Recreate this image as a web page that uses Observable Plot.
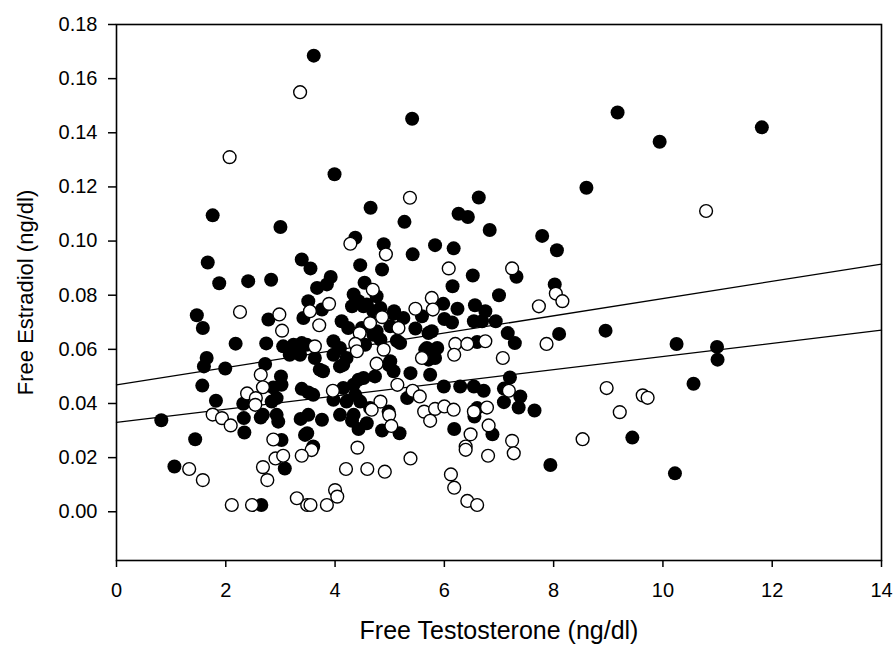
<!DOCTYPE html>
<html>
<head>
<meta charset="utf-8">
<script src="https://cdn.jsdelivr.net/npm/d3@7"></script>
<script src="https://cdn.jsdelivr.net/npm/@observablehq/plot@0.6"></script>
<style>
  html, body { margin: 0; padding: 0; background: #fff; }
  #chart svg { display: block; }
</style>
</head>
<body>
<div id="chart"></div>
<script>
// Closed circles
const filledX = [3.61,3.99,5.41,6.63,4.65,6.26,6.43,5.27,4.37,4.89,5.42,5.83,6.17,6.52,6.15,3.39,3.55,4.46,4.86,3.92,3.67,3.85,4.54,4.76,4.34,4.43,4.31,4.58,3.51,3.76,5.98,6.24,6.56,5.08,5.25,5.59,6.00,4.70,4.12,4.24,3.42,5.01,5.47,5.77,4.76,3.97,5.13,6.60,5.68,5.87,4.52,4.83,5.07,6.14,6.54,4.49,5.71,4.70,4.55,4.83,5.19,5.65,5.71,5.01,5.07,4.73,4.52,5.32,4.64,4.98,6.60,1.76,3.00,1.67,1.88,2.41,2.83,1.47,1.58,2.78,2.18,2.74,3.05,3.24,3.39,3.48,1.65,1.60,1.99,2.72,3.01,1.57,1.82,2.87,2.93,3.39,2.32,0.82,2.33,2.34,2.64,2.93,2.96,3.37,1.44,3.02,3.45,3.08,1.06,2.65,3.17,3.36,3.63,3.97,4.21,4.15,4.09,3.78,3.72,4.09,5.38,5.74,4.43,5.99,6.29,6.54,3.60,4.15,4.37,3.97,4.21,4.46,3.76,4.31,4.58,4.43,4.86,5.18,3.49,3.60,6.18,5.83,4.98,3.02,3.51,4.34,2.84,2.68,3.51,4.09,4.34,6.83,7.79,8.06,7.32,8.02,7.00,6.75,6.69,6.94,7.16,7.29,8.10,8.95,7.20,7.09,6.72,7.39,7.09,7.36,7.65,6.55,6.88,7.94,9.44,8.60,9.17,9.94,11.81,10.25,10.99,11.00,10.56,10.22];
const filledY = [0.1685,0.1247,0.1452,0.1161,0.1123,0.1101,0.1089,0.1071,0.1012,0.0988,0.0951,0.0985,0.0973,0.0873,0.0833,0.0932,0.0899,0.0911,0.0895,0.0867,0.0827,0.0840,0.0846,0.0796,0.0803,0.0778,0.0759,0.0766,0.0778,0.0747,0.0768,0.0750,0.0763,0.0741,0.0716,0.0722,0.0712,0.0741,0.0704,0.0679,0.0716,0.0685,0.0677,0.0667,0.0667,0.0630,0.0632,0.0627,0.0605,0.0605,0.0759,0.0753,0.0731,0.0699,0.0704,0.0679,0.0660,0.0654,0.0617,0.0636,0.0623,0.0599,0.0562,0.0556,0.0519,0.0500,0.0494,0.0420,0.0383,0.0370,0.0383,0.1095,0.1052,0.0921,0.0844,0.0852,0.0857,0.0726,0.0679,0.0710,0.0621,0.0622,0.0611,0.0617,0.0623,0.0617,0.0568,0.0537,0.0529,0.0546,0.0500,0.0466,0.0410,0.0459,0.0420,0.0454,0.0399,0.0338,0.0346,0.0293,0.0348,0.0358,0.0333,0.0343,0.0268,0.0265,0.0284,0.0160,0.0167,0.0025,0.0580,0.0580,0.0568,0.0580,0.0568,0.0543,0.0605,0.0519,0.0525,0.0537,0.0512,0.0506,0.0488,0.0463,0.0463,0.0463,0.0432,0.0457,0.0432,0.0414,0.0407,0.0407,0.0340,0.0336,0.0327,0.0306,0.0300,0.0290,0.0290,0.0241,0.0306,0.0568,0.0543,0.0469,0.0441,0.0469,0.0407,0.0358,0.0358,0.0358,0.0358,0.1041,0.1019,0.0966,0.0868,0.0840,0.0800,0.0741,0.0704,0.0704,0.0660,0.0623,0.0657,0.0669,0.0496,0.0455,0.0447,0.0426,0.0405,0.0385,0.0374,0.0352,0.0286,0.0173,0.0274,0.1197,0.1475,0.1367,0.1420,0.0620,0.0609,0.0562,0.0473,0.0142];

// Open circles
const openX = [3.36,2.07,5.37,4.28,4.93,6.08,4.69,3.89,3.54,5.77,5.47,5.79,4.86,4.64,3.71,5.16,4.45,4.37,4.89,3.63,6.20,6.42,6.18,5.59,4.76,5.14,5.42,5.55,3.96,4.83,4.67,4.99,5.03,3.57,3.39,5.63,5.83,6.00,6.17,5.74,6.48,6.39,6.39,6.54,4.41,5.38,4.20,4.59,4.91,6.12,6.18,4.00,4.04,3.49,3.55,3.85,6.42,6.60,3.30,2.26,2.98,3.03,2.64,2.68,2.39,2.55,2.54,1.76,1.93,2.09,2.87,2.91,3.05,1.33,1.58,2.68,2.76,2.11,2.48,4.40,7.24,8.04,8.16,7.73,6.75,7.87,7.07,7.18,6.78,6.81,7.24,7.27,6.80,8.53,8.97,9.21,9.63,9.72,10.79];
const openY = [0.155,0.131,0.1160,0.0990,0.0951,0.0899,0.0820,0.0768,0.0741,0.0790,0.0750,0.0747,0.0719,0.0697,0.0689,0.0679,0.0660,0.0620,0.0599,0.0611,0.0620,0.0620,0.0580,0.0568,0.0547,0.0469,0.0447,0.0426,0.0447,0.0407,0.0377,0.0358,0.0317,0.0228,0.0207,0.0370,0.0380,0.0389,0.0377,0.0336,0.0286,0.0241,0.0229,0.0370,0.0237,0.0197,0.0158,0.0158,0.0148,0.0138,0.0089,0.0080,0.0056,0.0025,0.0025,0.0025,0.0040,0.0025,0.0050,0.0738,0.0729,0.0669,0.0506,0.0460,0.0437,0.0420,0.0395,0.0359,0.0346,0.0319,0.0267,0.0197,0.0207,0.0158,0.0117,0.0165,0.0117,0.0025,0.0025,0.0593,0.0899,0.0806,0.0778,0.0759,0.0630,0.0620,0.0568,0.0447,0.0385,0.0319,0.0262,0.0216,0.0207,0.0268,0.0457,0.0368,0.0430,0.0421,0.1111];

// Fitted regression lines (endpoints read at x = 0 and x = 14)
const lineX = [0, 14];
const upperLineY = [0.0469, 0.0915];
const lowerLineY = [0.0330, 0.0671];

const xTicks = [0, 2, 4, 6, 8, 10, 12, 14];
const yTicks = [0, 0.02, 0.04, 0.06, 0.08, 0.10, 0.12, 0.14, 0.16, 0.18];
const xTitle = "Free Testosterone (ng/dl)";
const yTitle = "Free Estradiol (ng/dl)";

const filled = filledX.map((x, i) => ({x, y: filledY[i]}));
const open = openX.map((x, i) => ({x, y: openY[i]}));
const lines = [
  ...lineX.map((x, i) => ({x, y: upperLineY[i], s: "upper"})),
  ...lineX.map((x, i) => ({x, y: lowerLineY[i], s: "lower"}))
];

const font = "'Liberation Sans', Arial, sans-serif";

const chart = Plot.plot({
  width: 893,
  height: 648,
  marginLeft: 116,
  marginRight: 12,
  marginTop: 24,
  marginBottom: 88,
  style: {fontFamily: font, color: "black", background: "white"},
  x: {domain: [0, 14]},
  y: {domain: [-0.018, 0.18]},
  marks: [
    Plot.axisX({ticks: xTicks, tickSize: 7, tickPadding: 15, fontSize: 20, label: null, strokeWidth: 1.5}),
    Plot.axisY({ticks: yTicks, tickSize: 8, tickPadding: 11, fontSize: 20, label: null, strokeWidth: 1.5, tickFormat: d3.format(".2f")}),
    Plot.line(lines, {x: "x", y: "y", z: "s", stroke: "black", strokeWidth: 1.3}),
    Plot.dot(filled, {x: "x", y: "y", r: 7, fill: "black", stroke: "none"}),
    Plot.dot(open, {x: "x", y: "y", r: 6.4, fill: "white", stroke: "black", strokeWidth: 1.4}),
    Plot.frame({stroke: "black", strokeWidth: 1.6}),
    Plot.text([xTitle], {frameAnchor: "bottom", dy: 70, lineAnchor: "middle", textAnchor: "middle", fontSize: 25, fill: "black"}),
    Plot.text([yTitle], {frameAnchor: "left", dx: -91, rotate: -90, lineAnchor: "middle", textAnchor: "middle", fontSize: 22, fill: "black"})
  ]
});

document.getElementById("chart").appendChild(chart);
</script>
</body>
</html>
